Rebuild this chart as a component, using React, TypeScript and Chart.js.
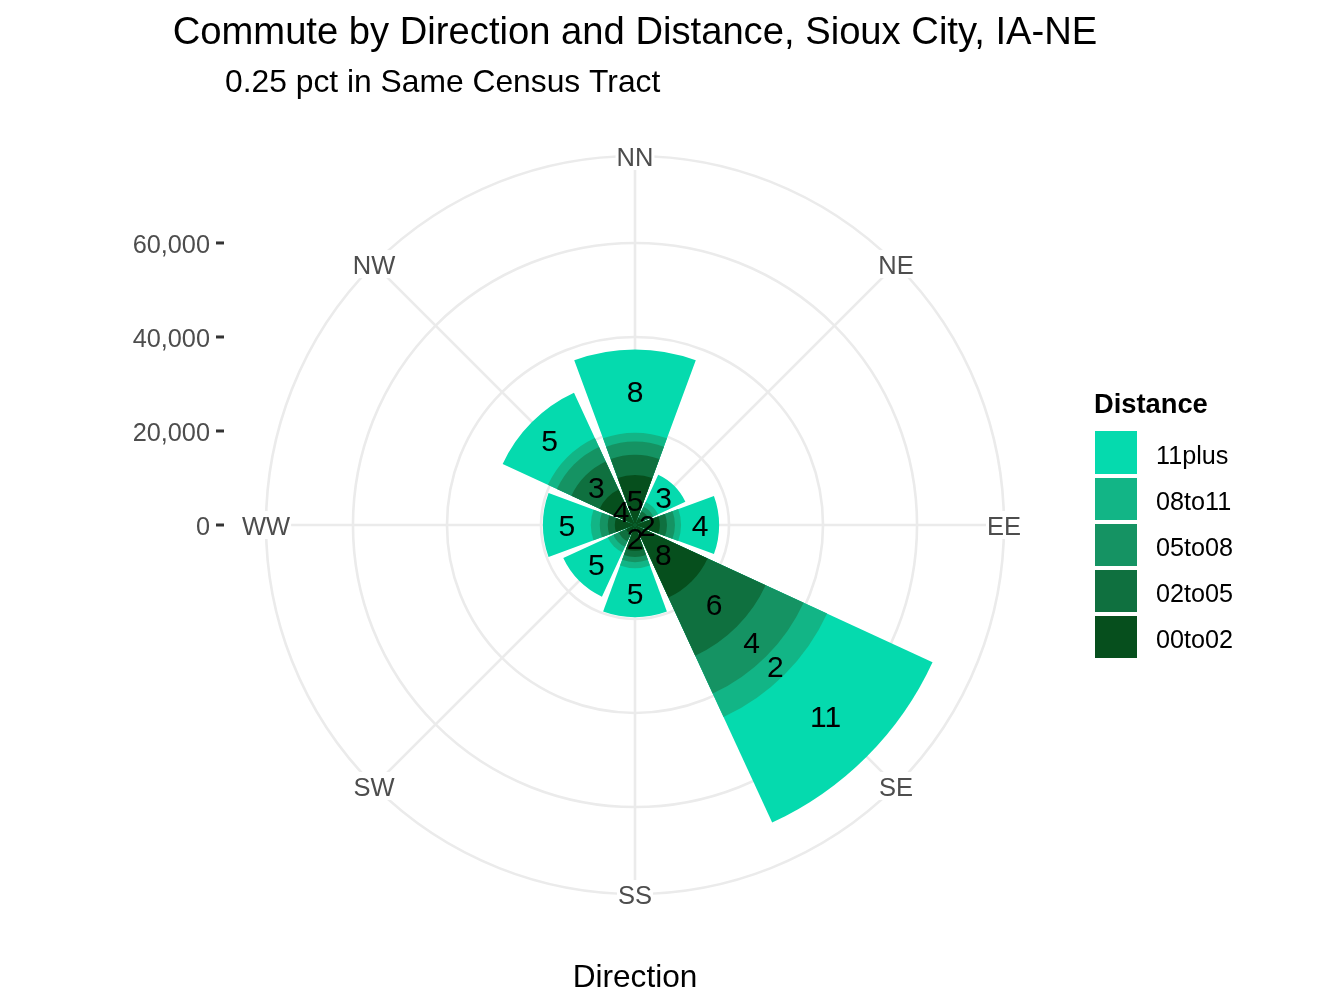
import React, { useEffect, useRef } from "react";
import { Chart, registerables, PolarAreaController } from "chart.js";

const TITLE = "Commute by Direction and Distance, Sioux City, IA-NE";
const SUBTITLE = "0.25 pct in Same Census Tract";
const X_TITLE = "Direction";
const LEGEND_TITLE = "Distance";

const directions = ["NN", "NE", "EE", "SE", "SS", "SW", "WW", "NW"];
const radialTicks = [0, 20000, 40000, 60000];
const outerLimit = 78500;

const d00to02 = [10650, 1700, 5300, 17000, 5500, 2100, 4300, 8300];
const d02to05 = [4300, 1500, 1500, 13600, 1300, 1700, 1500, 6600];
const d05to08 = [2800, 1100, 1700, 8900, 1100, 1300, 1700, 3400];
const d08to11 = [1900, 1100, 1300, 5500, 1300, 1300, 1900, 2100];
const d11plus = [17700, 6400, 8100, 24700, 10400, 10400, 10200, 10600];

const pct00to02 = [5, null, 2, 8, 2, null, null, 4];
const pct02to05 = [null, null, null, 6, null, null, null, 3];
const pct05to08 = [null, null, null, 4, null, null, null, null];
const pct08to11 = [null, null, null, 2, null, null, null, null];
const pct11plus = [8, 3, 4, 11, 5, 5, 5, 5];

const seriesNames = ["00to02", "02to05", "05to08", "08to11", "11plus"];
const seriesValues = [d00to02, d02to05, d05to08, d08to11, d11plus];
const seriesPct = [pct00to02, pct02to05, pct05to08, pct08to11, pct11plus];
const seriesColors = ["#064F1D", "#0F703F", "#159363", "#12B586", "#05DAAE"];

const WEDGE_DEG = 40.5;
const FONT = '"Liberation Sans", Arial, sans-serif';

// Polar area whose wedges are centred on their category direction and narrower than the slot.
class WindRoseController extends PolarAreaController {
  static id = "windRose";
  updateElement(element: any, index: number, properties: any, mode: any) {
    if (properties && properties.startAngle !== undefined && properties.endAngle !== undefined) {
      const half = (WEDGE_DEG * Math.PI) / 360;
      const centre = properties.startAngle;
      properties.startAngle = centre - half;
      properties.endAngle = centre + half;
    }
    super.updateElement(element, index, properties, mode);
  }
}

Chart.register(...registerables, WindRoseController as any);

const stacked = seriesValues.map((_, s) =>
  directions.map((_d, i) => seriesValues.slice(0, s + 1).reduce((sum, arr) => sum + arr[i], 0))
);

function text(ctx: any, str: string, x: number, y: number, font: string, color: string, align = "center") {
  ctx.font = font;
  ctx.fillStyle = color;
  ctx.textAlign = align;
  ctx.textBaseline = "middle";
  ctx.fillText(str, x, y);
}

const annotate = {
  id: "annotate",
  afterDatasetsDraw(chart: any) {
    const { ctx, scales } = chart;
    const r = scales.r;
    ctx.save();

    // direction labels on the outer ring, white behind
    directions.forEach((d, i) => {
      const p = r.getPointPosition(i, r.getDistanceFromCenterForValue(outerLimit));
      ctx.font = `25.5px ${FONT}`;
      const w = ctx.measureText(d).width;
      ctx.fillStyle = "#FFFFFF";
      ctx.fillRect(p.x - w / 2 - 1, p.y - 14, w + 2, 28);
      text(ctx, d, p.x, p.y + 3, `25.5px ${FONT}`, "#4D4D4D");
    });

    // radial axis drawn at the far left of the panel
    radialTicks.forEach((v) => {
      const y = r.yCenter - r.getDistanceFromCenterForValue(v);
      ctx.fillStyle = "#333333";
      ctx.fillRect(216, y - 1.5, 8, 3);
      text(ctx, v.toLocaleString("en-US"), 210, y + 3, `25.3px ${FONT}`, "#4D4D4D", "right");
    });

    // percentage labels at the middle of each stacked segment
    seriesPct.forEach((arr, s) => {
      arr.forEach((pct, i) => {
        if (pct === null) return;
        const mid = stacked[s][i] - seriesValues[s][i] / 2;
        const p = r.getPointPosition(i, r.getDistanceFromCenterForValue(mid));
        text(ctx, String(pct), p.x, p.y + 3, `30px ${FONT}`, "#000000");
      });
    });

    // titles
    text(ctx, TITLE, 635, 33, `38.2px ${FONT}`, "#000000");
    text(ctx, SUBTITLE, 225, 83, `31.8px ${FONT}`, "#000000", "left");
    text(ctx, X_TITLE, 635, 978, `31.6px ${FONT}`, "#000000");

    // legend, largest distance first
    text(ctx, LEGEND_TITLE, 1094, 405, `bold 27.3px ${FONT}`, "#000000", "left");
    [...seriesNames].reverse().forEach((name, k) => {
      const color = seriesColors[seriesNames.length - 1 - k];
      const top = 431 + k * 46 + (k === 0 ? 0 : 1);
      ctx.fillStyle = color;
      ctx.fillRect(1095, top, 42, k === 0 ? 43 : 42);
      text(ctx, name, 1156, 457 + k * 46, `25.2px ${FONT}`, "#000000", "left");
    });
    ctx.restore();
  },
};

export default function App() {
  const ref = useRef<HTMLCanvasElement>(null);
  useEffect(() => {
    const chart = new Chart(ref.current as any, {
      type: "windRose" as any,
      data: {
        labels: directions,
        datasets: seriesNames.map((name, s) => ({
          label: name,
          data: stacked[s],
          backgroundColor: seriesColors[s],
          borderWidth: 0,
        })),
      },
      options: {
        responsive: false,
        animation: false,
        devicePixelRatio: 1,
        layout: { padding: { left: 266, right: 340, top: 156, bottom: 114 } },
        plugins: { legend: { display: false }, title: { display: false }, tooltip: { enabled: false } },
        scales: {
          r: {
            type: "radialLinear",
            min: 0,
            max: outerLimit,
            startAngle: 0,
            ticks: { display: false },
            afterBuildTicks: (axis: any) => {
              axis.ticks = [...radialTicks, outerLimit].map((value) => ({ value }));
            },
            grid: { circular: true, color: "#EBEBEB", lineWidth: 2.6 },
            angleLines: { display: true, color: "#EBEBEB", lineWidth: 2.6 },
            pointLabels: { display: false },
          },
        },
      } as any,
      plugins: [annotate],
    } as any);
    return () => chart.destroy();
  }, []);
  return (
    <div style={{ position: "absolute", left: 0, top: 0, width: 1344, height: 1008, background: "#fff" }}>
      <canvas ref={ref} width={1344} height={1008} style={{ display: "block" }} />
    </div>
  );
}
